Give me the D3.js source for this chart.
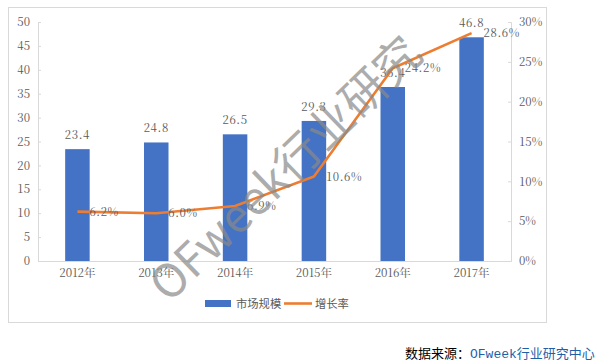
<!DOCTYPE html>
<html><head><meta charset="utf-8">
<script src="https://cdn.jsdelivr.net/npm/d3@7"></script>
<style>body{margin:0;background:#fff;} svg{display:block;}
.sf{font-family:"Noto Serif CJK SC","Liberation Serif",serif;}
</style>
</head><body>
<svg id="c" width="604" height="363"></svg>
<script>
const categories = ["2012年","2013年","2014年","2015年","2016年","2017年"];
const marketSize = [23.4,24.8,26.5,29.3,36.4,46.8];
const growthRate = [6.2,6.0,6.9,10.6,24.2,28.6];
const leftTicks = [0,5,10,15,20,25,30,35,40,45,50];
const rightTicks = [0,5,10,15,20,25,30];
const legendLabels = ["市场规模","增长率"];

const svg = d3.select("#c");
const cjk = "'Noto Sans CJK SC',sans-serif";
const gray = "#595959";

svg.append("rect").attr("x",8.5).attr("y",7.5).attr("width",538).attr("height",315)
  .attr("fill","#fff").attr("stroke","#d9d9d9");

const L=38, R=511, T=22, B=261;
const x = d3.scaleBand().domain(categories).range([L,R]);
const yL = d3.scaleLinear().domain([0,50]).range([B,T]);
const yR = d3.scaleLinear().domain([0,30]).range([B,T]);

const axL = svg.append("g").attr("transform",`translate(${L},0)`)
  .call(d3.axisLeft(yL).tickValues(leftTicks).tickSize(-3).tickPadding(8));
const axR = svg.append("g").attr("transform",`translate(${R},0)`)
  .call(d3.axisRight(yR).tickValues(rightTicks).tickFormat(d=>d+"%").tickSize(-3).tickPadding(9));
const axB = svg.append("g").attr("transform",`translate(0,${B})`)
  .call(d3.axisBottom(x).tickSize(0).tickPadding(8));
[axL,axR,axB].forEach(a=>{
  a.attr("font-family",null).attr("font-size",null);
  a.selectAll("path").attr("stroke","#d9d9d9");
  a.selectAll("line").attr("stroke","#d9d9d9");
  a.selectAll("text").attr("class","sf").attr("fill",gray).style("font-size","11.5px");
});
axR.selectAll("text").attr("x",8);

const bw = 24.5;
svg.append("g").selectAll("rect").data(marketSize).join("rect")
  .attr("x",(d,i)=>x(categories[i])+x.bandwidth()/2-bw/2)
  .attr("y",d=>yL(d)).attr("width",bw).attr("height",d=>B-yL(d))
  .attr("fill","#4472C4");

svg.append("g").selectAll("text").data(marketSize).join("text")
  .attr("class","sf")
  .attr("x",(d,i)=>x(categories[i])+x.bandwidth()/2)
  .attr("y",d=>yL(d)-10).attr("text-anchor","middle")
  .attr("fill",gray).style("font-size","11.5px")
  .style("letter-spacing","0.6px").text(d=>d.toFixed(1));

const line = d3.line().x((d,i)=>x(categories[i])+x.bandwidth()/2).y(d=>yR(d));
svg.append("path").datum(growthRate).attr("d",line).attr("fill","none")
  .attr("stroke","#ED7D31").attr("stroke-width",2.6).attr("stroke-linejoin","round");

svg.append("g").selectAll("text").data(growthRate).join("text")
  .attr("class","sf")
  .attr("x",(d,i)=>x(categories[i])+x.bandwidth()/2+12)
  .attr("y",d=>yR(d)+4)
  .attr("fill",gray).style("font-size","11.5px")
  .style("letter-spacing","0.6px").text(d=>d.toFixed(1)+"%");

const lg = svg.append("g");
lg.append("rect").attr("x",205).attr("y",300).attr("width",26).attr("height",7).attr("fill","#4472C4");
lg.append("text").attr("x",236).attr("y",307.5).attr("fill",gray)
  .style("font-family",cjk).style("font-size","11.3px").text(legendLabels[0]);
lg.append("line").attr("x1",284).attr("x2",312).attr("y1",303.5).attr("y2",303.5)
  .attr("stroke","#ED7D31").attr("stroke-width",2.6);
lg.append("text").attr("x",315).attr("y",307.5).attr("fill",gray)
  .style("font-family",cjk).style("font-size","11.3px").text(legendLabels[1]);

svg.append("text").attr("transform","translate(283,166) rotate(-44)")
  .attr("text-anchor","middle").attr("dominant-baseline","central")
  .attr("fill","#8a8a8a").attr("opacity",0.7)
  .style("font-family",cjk).style("font-size","46px").text("OFweek行业研究");

const src = svg.append("text").attr("x",405).attr("y",358).style("font-size","13px");
src.append("tspan").attr("fill","#000").style("font-family",cjk).text("数据来源：");
src.append("tspan").attr("fill","#1f5fa8").style("font-family","'Liberation Mono','Noto Sans CJK SC',monospace").text("OFweek行业研究中心");
</script>
</body></html>
